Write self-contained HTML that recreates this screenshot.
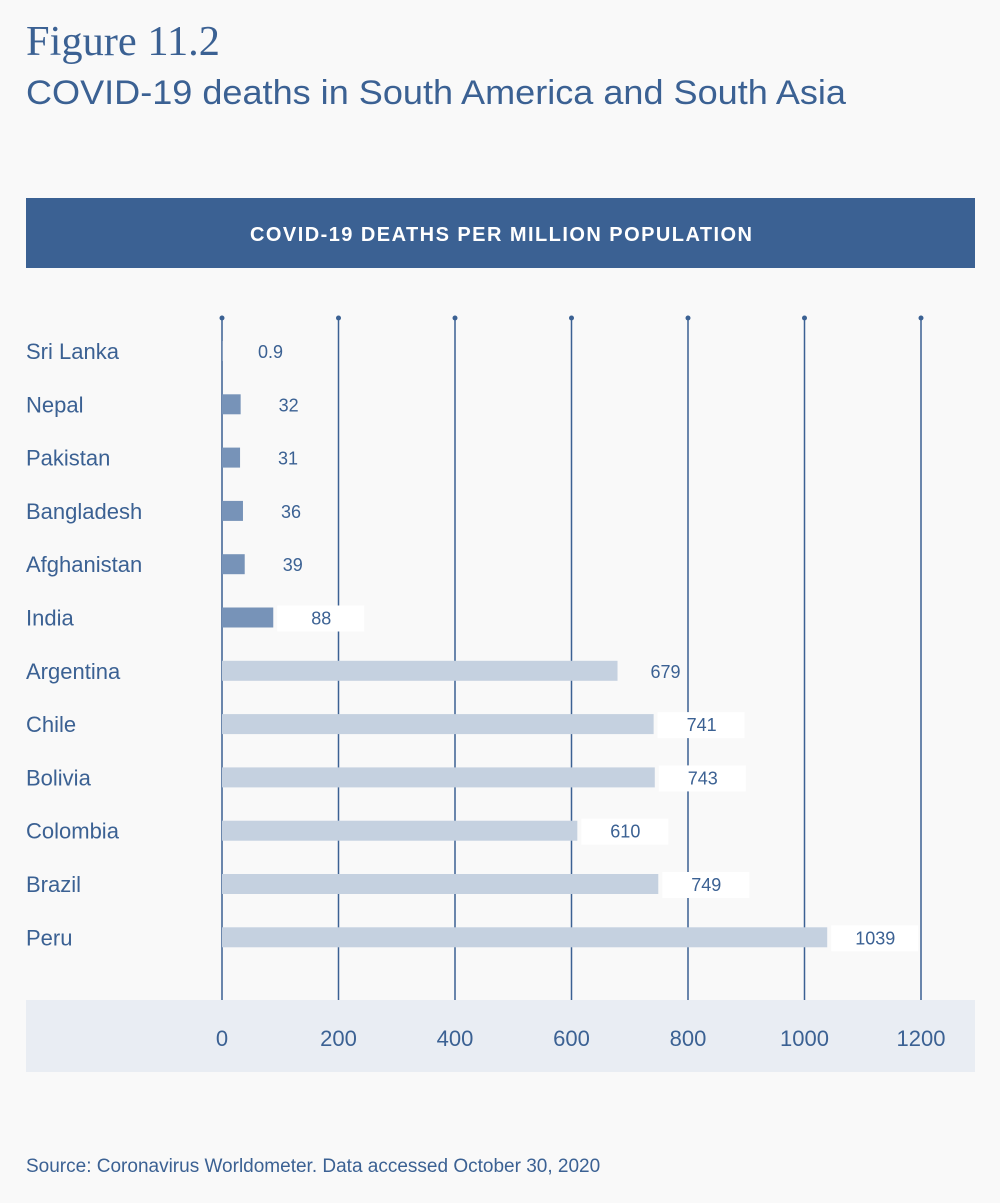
<!DOCTYPE html>
<html><head><meta charset="utf-8"><style>
html,body{margin:0;padding:0;background:#f9f9f9;}
svg{display:block;font-family:"Liberation Sans",sans-serif;}
</style></head><body>
<svg width="1000" height="1203" viewBox="0 0 1000 1203">
<rect width="1000" height="1203" fill="#f9f9f9"/>
<text x="26" y="55" font-family="Liberation Serif,serif" font-size="42" fill="#3b6193" textLength="194" lengthAdjust="spacingAndGlyphs">Figure 11.2</text>
<text x="26" y="104" font-size="34" fill="#3b6193" textLength="820" lengthAdjust="spacingAndGlyphs">COVID-19 deaths in South America and South Asia</text>
<rect x="26" y="198" width="949" height="70" fill="#3b6193"/>
<text x="501" y="241" text-anchor="middle" font-size="20" font-weight="bold" fill="#fff" textLength="502" lengthAdjust="spacing">COVID-19 DEATHS PER MILLION POPULATION</text>
<rect x="26" y="1000" width="949" height="72" fill="#e9edf3"/>
<g id="grid"></g>
<g id="bars"></g>
<text x="26" y="1172" font-size="19" fill="#3b6193">Source: Coronavirus Worldometer. Data accessed October 30, 2020</text>
</svg>
<script>
const countries=["Sri Lanka","Nepal","Pakistan","Bangladesh","Afghanistan","India","Argentina","Chile","Bolivia","Colombia","Brazil","Peru"];
const deaths=[0.9,32,31,36,39,88,679,741,743,610,749,1039];
const valueLabels=["0.9","32","31","36","39","88","679","741","743","610","749","1039"];
const regions=["asia","asia","asia","asia","asia","asia","america","america","america","america","america","america"];
const ticks=[0,200,400,600,800,1000,1200];
const NS="http://www.w3.org/2000/svg";
const x=v=>222+v*(699/1200);
const y=i=>351+i*53.3;
function mk(tag,attrs,parent){const e=document.createElementNS(NS,tag);for(const k in attrs)e.setAttribute(k,attrs[k]);parent.appendChild(e);return e;}
const grid=document.getElementById('grid'),bars=document.getElementById('bars');
ticks.forEach(t=>{
 const l=mk('line',{x1:x(t),x2:x(t),y1:318,y2:1000,stroke:'#3b6193','stroke-width':1.5},grid);
 
 
 const c=mk('circle',{cx:x(t),cy:318,r:2.5,fill:'#3b6193'},grid);
 
 
 const tx=mk('text',{x:x(t),y:1046,'text-anchor':'middle','font-size':22,fill:'#3b6193'},grid);
 tx.textContent=t;
 
 
});
countries.forEach((c,i)=>{
 const cy=y(i);
 const lab=mk('text',{x:26,y:cy+8,'font-size':22,fill:'#3b6193'},bars);
 lab.textContent=c;
 
 
 const end=x(deaths[i]);
 const b=mk('rect',{x:222,y:cy-10,width:Math.max(0,end-222),height:20,fill:regions[i]=='asia'?'#7793b8':'#c5d1e0'},bars);
 
 
 if(deaths[i]>80&&deaths[i]!==679){
  const bx=mk('rect',{x:end+4,y:cy-12,width:87,height:26,fill:'#fff'},bars);
  
  
 }
 const v=mk('text',{x:end+48,y:cy+7,'text-anchor':'middle','font-size':18,fill:'#3b6193'},bars);
 v.textContent=valueLabels[i];
 
 
});
</script>
</body></html>
